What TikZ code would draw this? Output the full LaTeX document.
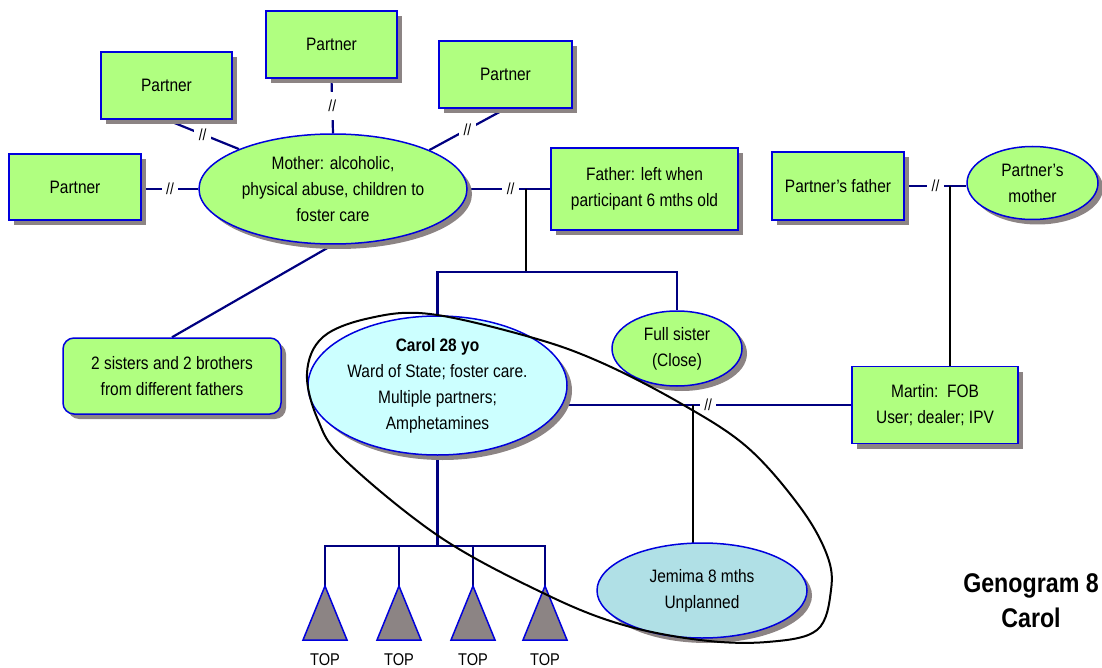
\documentclass[tikz,border=0pt]{standalone}
\usepackage{fontspec}
\setmainfont{Liberation Sans}[FakeStretch=0.86]
\usetikzlibrary{shapes.geometric,shadows,backgrounds}
\definecolor{lgreen}{RGB}{176,255,128}
\definecolor{lcyan}{RGB}{204,255,255}
\definecolor{pblue}{RGB}{176,224,230}
\definecolor{bord}{RGB}{0,0,221}
\definecolor{navyl}{RGB}{0,0,128}
\definecolor{shad}{RGB}{140,132,132}
\tikzset{
 base/.style={draw=bord, line width=1.5pt, align=center, inner sep=0pt, text=black,
   font=\fontsize{18}{26}\selectfont,
   drop shadow={shadow xshift=5pt, shadow yshift=-5pt, fill=shad, opacity=1}},
 box/.style={base, rectangle, fill=lgreen},
 oval/.style={base, ellipse, fill=lgreen},
 conn/.style={navyl, line width=2.2pt},
 desc/.style={black, line width=1.5pt},
 cut/.style={fill=white, inner xsep=4.5pt, inner ysep=8pt, text=black, font=\fontsize{16}{16}\selectfont},
 tri/.style={fill=shad, draw=bord, line width=1.5pt, line join=miter},
 toplab/.style={font=\fontsize{17}{17}\selectfont, inner sep=0pt},
}
\begin{document}
\begin{tikzpicture}[x=1pt,y=-1pt]
\useasboundingbox (0,0) rectangle (1102,668);

% nodes
\node[box, minimum width=131pt, minimum height=67pt] (p1) at (331.5,44.5) {Partner};
\node[box, minimum width=131pt, minimum height=67pt] (p2) at (166.5,85.5) {Partner};
\node[box, minimum width=133pt, minimum height=67pt] (p3) at (505.5,74.5) {Partner};
\node[box, minimum width=132pt, minimum height=66pt] (p4) at (75,187) {Partner};
\node[oval, minimum width=268pt, minimum height=110pt] (mother) at (333,189)
  {Mother: alcoholic,\\physical abuse, children to\\foster care};
\node[box, minimum width=187pt, minimum height=82pt] (father) at (644.5,189)
  {Father: left when\\participant 6 mths old};
\node[box, minimum width=132pt, minimum height=68pt] (pf) at (838,186) {Partner\symbol{39}s father};
\node[oval, minimum width=131pt, minimum height=73pt] (pm) at (1032.5,183) {Partner\symbol{39}s\\mother};
\node[box, rounded corners=11pt, minimum width=218pt, minimum height=76pt] (sisters) at (172,376)
  {2 sisters and 2 brothers\\ from different fathers};
\node[oval, fill=lcyan, minimum width=259pt, minimum height=139pt] (carol) at (437.5,385.5)
  {\textbf{Carol 28 yo}\\Ward of State; foster care.\\Multiple partners;\\Amphetamines};
\node[oval, minimum width=130pt, minimum height=75pt] (sis) at (677,348.5) {Full sister\\(Close)};
\node[box, minimum width=166pt, minimum height=77pt] (martin) at (935,405)
  {Martin:\ \ FOB\\User; dealer; IPV};
\node[oval, fill=pblue, minimum width=210pt, minimum height=95pt] (jemima) at (702,590.5)
  {Jemima 8 mths\\Unplanned};

\coordinate (md) at (526,189);
\coordinate (sb) at (526,272);
\coordinate (pmd) at (950,186);
\coordinate (cmd) at (693,405);
\coordinate (cb) at (439,546);
\coordinate (a1) at (325,586);
\coordinate (a2) at (399,586);
\coordinate (a3) at (473,586);
\coordinate (a4) at (545,586);

% connectors behind nodes
\begin{scope}[on background layer]
\draw[conn] (p4.east |- mother.west) -- node[cut]{//} (mother.west);
\draw[conn] (p2.south) -- node[cut]{//} (mother.157);
\draw[conn] (p1.south) -- node[cut]{//} (mother.north);
\draw[conn] (p3.south) -- node[cut]{//} (mother.22);
\draw[conn] (mother.east) -- node[cut, pos=0.52]{//} (father.west);
\draw[desc] (md) -- (sb);
\draw[conn] (carol.north) |- (sb) -| (sis.north);
\draw[conn] (mother.south) -- (sisters.north);
\draw[conn] (pf.east) -- node[cut]{//} (pf.east -| pm.west);
\draw[desc] (pmd) -- (pmd |- martin.north);
\draw[conn] (martin.west) -- node[cut, pos=0.505]{//} (martin.west -| carol.east);
\draw[desc] (cmd) -- (cmd |- jemima.center);
\draw[conn] (carol.south) -- (carol.south |- cb);
\draw[conn] (a1) -- (a1 |- cb) -- (a4 |- cb) -- (a4);
\draw[conn] (a2) -- (a2 |- cb);
\draw[conn] (a3) -- (a3 |- cb);
\end{scope}

% terminated pregnancies
\foreach \a in {a1,a2,a3,a4}{
  \draw[tri] (\a) -- ++(-22,54) -- ++(44,0) -- cycle;
}
\node[toplab] (t1) at (325,660) {TOP};
\node[toplab] (t2) at (399,660) {TOP};
\node[toplab] (t3) at (473,660) {TOP};
\node[toplab] (t4) at (545,660) {TOP};

% enclosing loop
\draw[black, line width=2pt] plot[smooth cycle, tension=0.6] coordinates {
 (430,314) (370,318) (323,337) (307,373) (318,420) (345,460) (440,537) (543,593)
 (620,624) (700,640) (767,642) (817,630) (831,590) (827,555) (800,507) (747,447)
 (680,403) (600,362) (530,337)};

% title
\node[align=center, inner sep=0pt, font=\bfseries\fontsize{27}{35}\selectfont] (title) at (1031,601)
  {Genogram 8\\Carol};
\end{tikzpicture}
\end{document}
